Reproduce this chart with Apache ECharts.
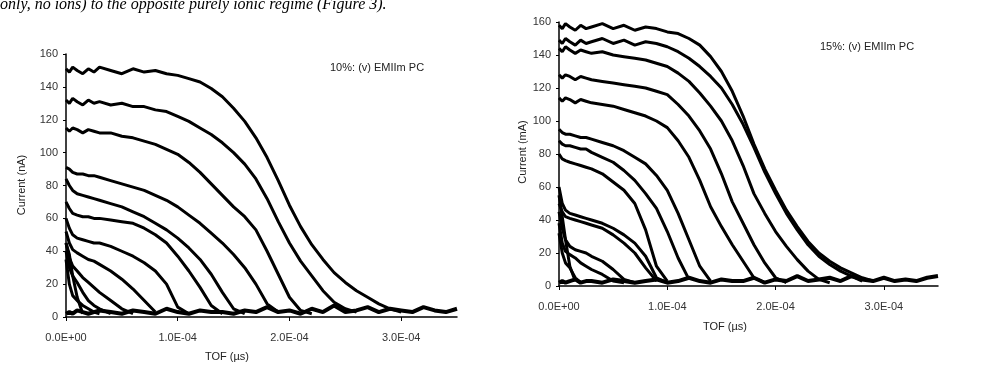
<!DOCTYPE html>
<html>
<head>
<meta charset="utf-8">
<script src="https://cdn.jsdelivr.net/npm/echarts@6/dist/echarts.min.js"></script>
<style>
  html, body { margin: 0; padding: 0; background: #fff; }
  #chart { width: 983px; height: 369px; }
</style>
</head>
<body>
<div id="chart"></div>
<script>
// time of flight, in units of 1E-4
const tof = [0, 0.03, 0.06, 0.1, 0.15, 0.2, 0.25, 0.3, 0.4, 0.5, 0.6, 0.7, 0.8, 0.9,
  1.0, 1.1, 1.2, 1.3, 1.4, 1.5, 1.6, 1.7, 1.8, 1.9, 2.0, 2.1, 2.2, 2.3, 2.4, 2.5,
  2.6, 2.7, 2.8, 2.9, 3.0, 3.1, 3.2, 3.3, 3.4, 3.5]

const xTickLabels = ['0.0E+00', '1.0E-04', '2.0E-04', '3.0E-04']
const yTicks = [0, 20, 40, 60, 80, 100, 120, 140, 160]

// 10% (v) EMIIm PC transients, current
const left10 = [
  [151, 149, 152, 150, 148, 151, 149, 152, 150, 148, 151, 149, 150, 148, 147, 145, 143, 139, 134, 127, 119, 109, 97, 83, 68, 55, 44, 35, 27, 21, 16, 12, 8, 5, 3],
  [132, 130, 133, 131, 129, 132, 130, 131, 129, 130, 128, 128, 126, 125, 122, 119, 115, 111, 106, 100, 93, 84, 72, 58, 45, 34, 25, 16, 9, 5, 3],
  [115, 113, 115, 114, 112, 114, 113, 112, 112, 110, 109, 107, 105, 102, 99, 94, 88, 81, 74, 67, 61, 53, 40, 26, 12, 4, 2],
  [91, 90, 88, 87, 87, 86, 86, 85, 83, 81, 79, 77, 74, 71, 67, 62, 57, 51, 45, 38, 30, 20, 8, 3],
  [84, 80, 77, 75, 74, 73, 72, 71, 69, 67, 64, 61, 57, 53, 48, 42, 35, 26, 15, 5, 2],
  [70, 66, 63, 62, 61, 61, 60, 60, 59, 58, 57, 54, 50, 45, 37, 28, 18, 7, 2],
  [60, 54, 50, 48, 47, 46, 45, 45, 43, 40, 37, 33, 28, 20, 6, 2],
  [52, 45, 41, 39, 37, 35, 34, 32, 28, 23, 17, 10, 3],
  [45, 36, 31, 28, 24, 21, 18, 15, 10, 5, 2],
  [40, 30, 25, 21, 15, 10, 7, 5, 2],
  [35, 20, 13, 10, 7, 5, 3, 2],
  [45, 38, 25, 12, 2]
]
const base10 = [2, 3, 2, 4, 3, 2, 3, 4, 3, 2, 4, 3, 2, 5, 3, 2, 4, 3, 3, 2, 4, 3, 6, 3, 4, 2, 5, 3, 7, 3, 4, 6, 3, 5, 4, 3, 6, 4, 3, 5]

// 15% (v) EMIIm PC transients
const right15 = [
  [158, 156, 159, 157, 155, 158, 156, 157, 159, 156, 158, 155, 157, 156, 154, 153, 150, 146, 139, 130, 118, 103, 86, 71, 58, 46, 36, 27, 20, 15, 11, 8, 5, 3],
  [149, 147, 150, 148, 146, 149, 147, 148, 150, 147, 149, 146, 148, 147, 145, 142, 138, 133, 127, 120, 110, 98, 84, 69, 56, 44, 34, 25, 18, 13, 9, 6, 3],
  [144, 142, 145, 143, 141, 143, 142, 141, 142, 140, 139, 138, 137, 135, 133, 129, 124, 117, 109, 100, 88, 73, 56, 44, 33, 24, 16, 9, 4, 2],
  [128, 126, 128, 127, 125, 127, 126, 125, 124, 123, 122, 121, 120, 118, 116, 110, 103, 94, 83, 68, 51, 38, 25, 14, 5, 2],
  [114, 112, 114, 113, 111, 113, 112, 111, 110, 109, 107, 105, 103, 100, 96, 88, 78, 64, 48, 36, 25, 15, 5, 2],
  [95, 93, 92, 92, 91, 90, 90, 89, 87, 85, 82, 78, 74, 67, 58, 44, 28, 12, 3],
  [88, 86, 85, 85, 84, 83, 83, 81, 78, 75, 70, 64, 56, 47, 33, 17, 4],
  [80, 77, 76, 75, 74, 73, 72, 71, 68, 63, 58, 50, 34, 12, 3],
  [60, 50, 46, 44, 43, 42, 41, 40, 38, 35, 31, 26, 18, 5, 2],
  [50, 45, 42, 41, 40, 39, 38, 37, 35, 31, 26, 20, 11, 3],
  [45, 35, 28, 24, 22, 21, 20, 18, 15, 10, 4, 2],
  [38, 26, 21, 19, 17, 14, 12, 10, 7, 3, 2],
  [32, 20, 14, 11, 5, 2],
  [55, 42, 28, 12, 3]
]
const base15 = [2, 3, 2, 3, 4, 2, 3, 3, 2, 4, 3, 2, 3, 4, 2, 3, 5, 3, 2, 4, 3, 3, 5, 2, 4, 3, 6, 3, 4, 5, 3, 6, 4, 3, 5, 3, 4, 3, 5, 6]

const node = document.getElementById('chart')
const myChart = echarts.init(node)

const font = 'Liberation Sans'

function toPairs(values) {
  return values.map((v, i) => [tof[i], v])
}

function curveSeries(values, idx, width) {
  return {
    type: 'line',
    xAxisIndex: idx,
    yAxisIndex: idx,
    data: toPairs(values),
    showSymbol: false,
    silent: true,
    lineStyle: { color: '#000', width: width }
  }
}

function xAxisFor(idx) {
  return {
    type: 'value',
    gridIndex: idx,
    min: 0,
    max: 3.5,
    interval: 1,
    axisLine: { lineStyle: { color: '#000', width: 1.5 } },
    axisTick: { show: true, length: 4, lineStyle: { color: '#000' } },
    axisLabel: {
      showMaxLabel: false,
      fontFamily: font,
      fontSize: 11,
      color: '#333',
      margin: 15,
      formatter: (v) => xTickLabels[Math.round(v)] || ''
    },
    splitLine: { show: false }
  }
}

function yAxisFor(idx) {
  return {
    type: 'value',
    gridIndex: idx,
    min: yTicks[0],
    max: yTicks[yTicks.length - 1],
    interval: 20,
    axisLine: { show: true, lineStyle: { color: '#000', width: 1.5 } },
    axisTick: { show: true, length: 3, lineStyle: { color: '#000' } },
    axisLabel: { fontFamily: font, fontSize: 11, color: '#333', margin: 8 },
    splitLine: { show: false }
  }
}

const series = []
left10.forEach(c => series.push(curveSeries(c, 0, 3)))
series.push(curveSeries(base10, 0, 4))
right15.forEach(c => series.push(curveSeries(c, 1, 3)))
series.push(curveSeries(base15, 1, 4))

const option = {
  animation: false,
  backgroundColor: '#fff',
  grid: [
    { left: 66, top: 54, width: 391, height: 263 },
    { left: 559, top: 22, width: 379, height: 264 }
  ],
  xAxis: [xAxisFor(0), xAxisFor(1)],
  yAxis: [yAxisFor(0), yAxisFor(1)],
  series: series,
  graphic: [
    {
      type: 'text', left: 0, top: -3,
      style: { text: 'only, no ions) to the opposite purely ionic regime (Figure 3).', font: 'italic 16px "Liberation Serif"', fill: '#000' }
    },
    {
      type: 'text', left: 330, top: 62,
      style: { text: '10%: (v) EMIIm PC', font: '11px "Liberation Sans"', fill: '#222' }
    },
    {
      type: 'text', left: 820, top: 41,
      style: { text: '15%: (v) EMIIm PC', font: '11px "Liberation Sans"', fill: '#222' }
    },
    {
      type: 'text', x: 227, y: 357,
      style: { text: 'TOF (µs)', font: '11px "Liberation Sans"', fill: '#222', align: 'center', verticalAlign: 'middle' }
    },
    {
      type: 'text', x: 725, y: 327,
      style: { text: 'TOF (µs)', font: '11px "Liberation Sans"', fill: '#222', align: 'center', verticalAlign: 'middle' }
    },
    {
      type: 'text', x: 22, y: 185, rotation: Math.PI / 2,
      style: { text: 'Current (nA)', font: '11px "Liberation Sans"', fill: '#222', align: 'center', verticalAlign: 'middle' }
    },
    {
      type: 'text', x: 523, y: 152, rotation: Math.PI / 2,
      style: { text: 'Current (mA)', font: '11px "Liberation Sans"', fill: '#222', align: 'center', verticalAlign: 'middle' }
    }
  ]
}

myChart.setOption(option)

window.addEventListener('resize', () => {
  myChart.resize()
})
</script>
</body>
</html>
